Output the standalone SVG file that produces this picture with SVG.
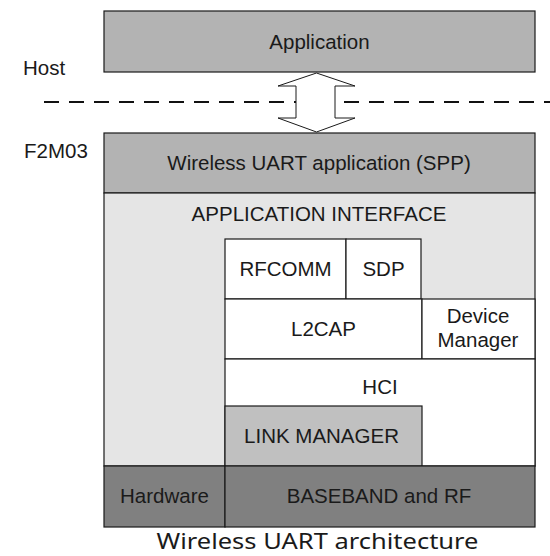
<svg xmlns="http://www.w3.org/2000/svg" width="550" height="556" viewBox="0 0 550 556">
<style>
.b{stroke:#1a1a1a;stroke-width:1.2}
.t{font-family:"Liberation Sans",Arial,sans-serif;font-size:20.5px;fill:#1a1a1a;text-anchor:middle}
.l{font-family:"Liberation Sans",Arial,sans-serif;font-size:20.5px;fill:#1a1a1a}
.cap{font-family:"Noto Sans","Open Sans",sans-serif;font-size:22px;fill:#1a1a1a;text-anchor:middle}
</style>
<rect width="550" height="556" fill="#ffffff"/>
<g id="labels">
<text class="l" x="23" y="75">Host</text>
<text class="l" x="24" y="158">F2M03</text>
</g>
<g id="separator">
<path d="M44,102 H550" stroke="#111" stroke-width="2" stroke-dasharray="15 10" fill="none"/>
</g>
<g id="application">
<rect class="b" x="104" y="11" width="431" height="61" fill="#b3b3b3"/>
<text class="t" x="319.5" y="49">Application</text>
</g>
<g id="wireless-uart">
<rect class="b" x="104" y="133" width="431" height="60" fill="#b3b3b3"/>
<text class="t" x="319" y="170">Wireless UART application (SPP)</text>
</g>
<g id="app-interface">
<rect class="b" x="104" y="193" width="431" height="273" fill="#e5e5e5"/>
<text class="t" x="319" y="221">APPLICATION INTERFACE</text>
</g>
<g id="rfcomm">
<rect class="b" x="225" y="239" width="121" height="60" fill="#ffffff"/>
<text class="t" x="285.5" y="276">RFCOMM</text>
</g>
<g id="sdp">
<rect class="b" x="346" y="239" width="75" height="60" fill="#ffffff"/>
<text class="t" x="383.5" y="276">SDP</text>
</g>
<g id="l2cap">
<rect class="b" x="225" y="299" width="197" height="60" fill="#ffffff"/>
<text class="t" x="323.5" y="336">L2CAP</text>
</g>
<g id="device-manager">
<rect class="b" x="422" y="299" width="113" height="60" fill="#ffffff"/>
<text class="t" x="478" y="323">Device</text>
<text class="t" x="478" y="347">Manager</text>
</g>
<g id="hci">
<rect class="b" x="225" y="359" width="310" height="107" fill="#ffffff"/>
<text class="t" x="380" y="394">HCI</text>
</g>
<g id="link-manager">
<rect class="b" x="225" y="406" width="197" height="60" fill="#c0c0c0"/>
<text class="t" x="321.5" y="443">LINK MANAGER</text>
</g>
<g id="hardware">
<rect class="b" x="104" y="466" width="121" height="61" fill="#808080"/>
<text class="t" x="164.5" y="503">Hardware</text>
</g>
<g id="baseband">
<rect class="b" x="225" y="466" width="310" height="61" fill="#808080"/>
<text class="t" x="379" y="503">BASEBAND and RF</text>
</g>
<g id="connectors">
<path d="M316.5,73 L355,86 L335,86 L335,118 L355,118 L316.5,132 L278,118 L296,118 L296,86 L278,86 Z" fill="#ffffff" stroke="#1a1a1a" stroke-width="1"/>
</g>
<g id="caption">
<text class="cap" x="317.5" y="549" textLength="322" lengthAdjust="spacingAndGlyphs">Wireless UART architecture</text>
</g>
</svg>
